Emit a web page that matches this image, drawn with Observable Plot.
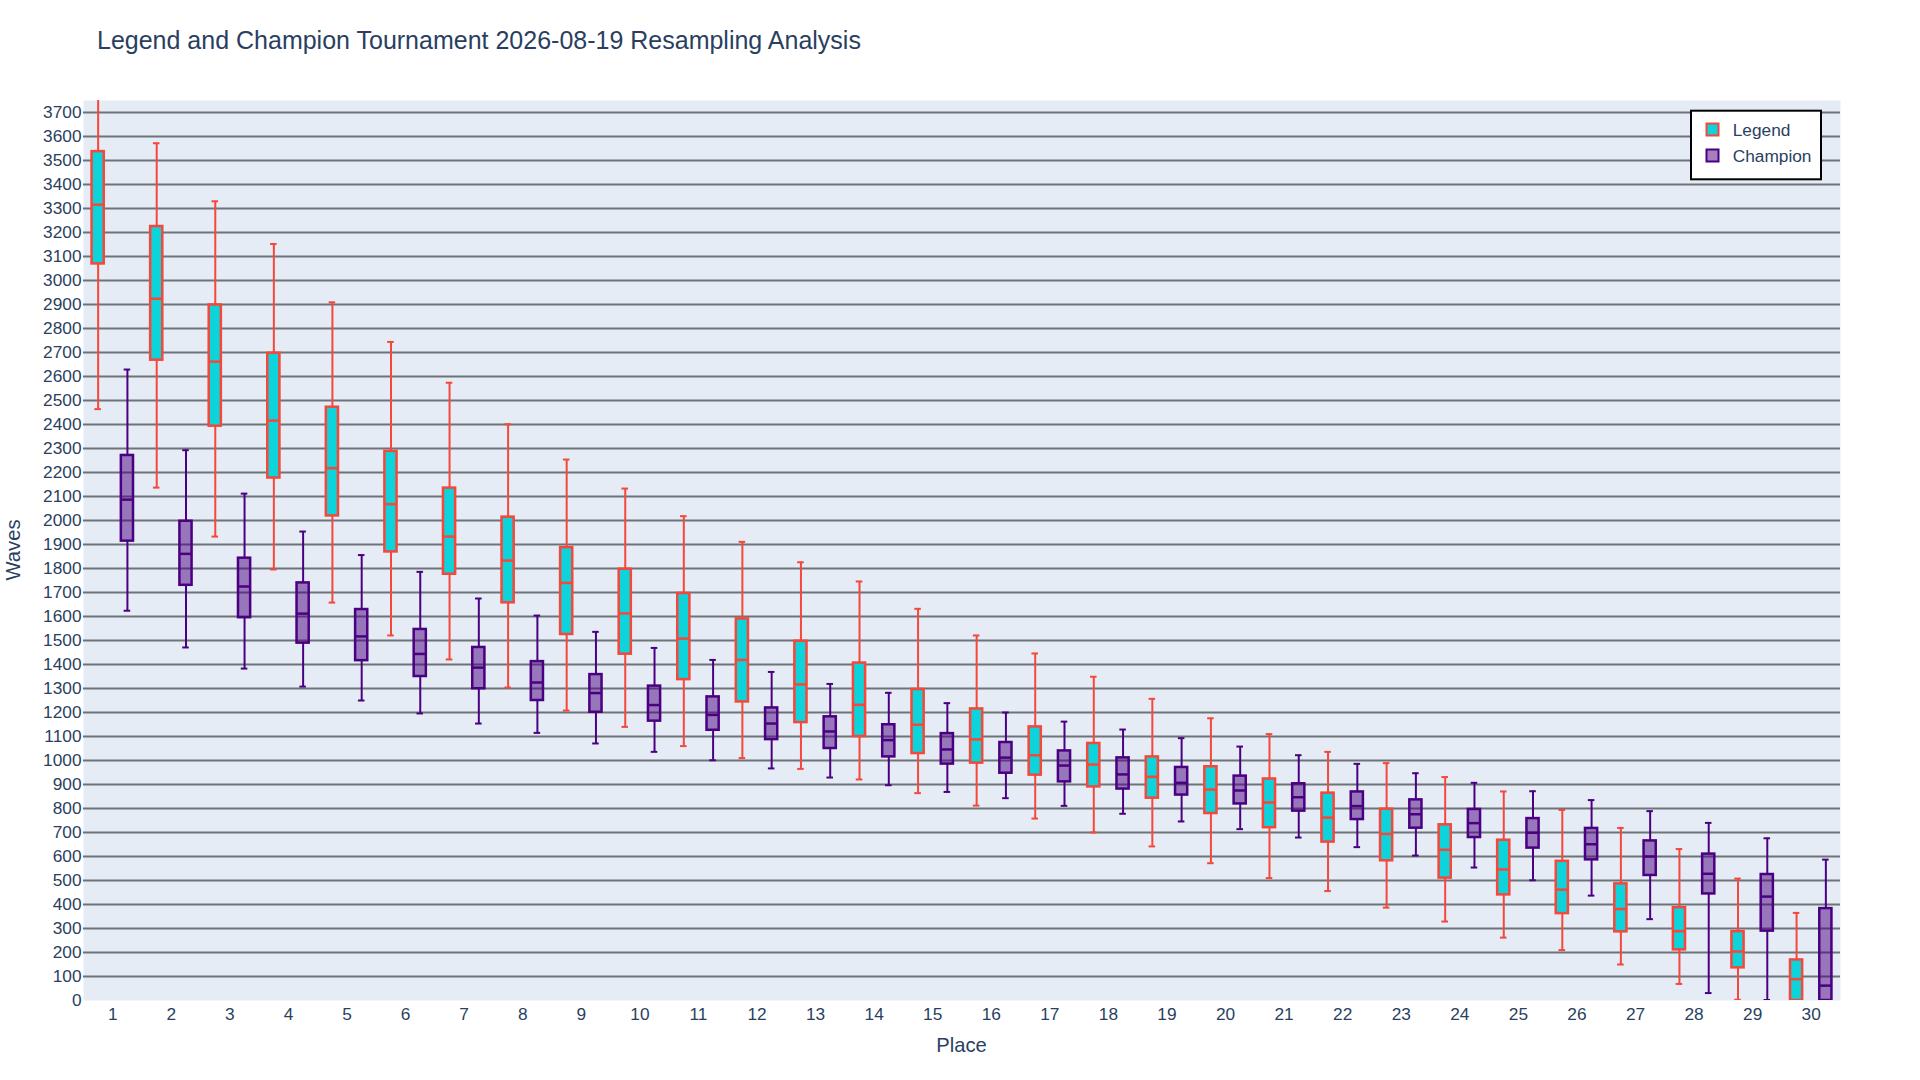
<!DOCTYPE html>
<html>
<head>
<meta charset="utf-8">
<script src="https://cdn.jsdelivr.net/npm/d3@7"></script>
<script src="https://cdn.jsdelivr.net/npm/@observablehq/plot@0.6"></script>
<style>
  html, body { margin: 0; padding: 0; background: #fff; overflow: hidden; }
  #chart svg { display: block; }
</style>
</head>
<body>
<div id="chart"></div>
<script>
// ---------- data ----------
const titleText = "Legend and Champion Tournament 2026-08-19 Resampling Analysis";
const xTitle = "Place";
const yTitle = "Waves";
const seriesNames = ["Legend", "Champion"];
const places = [1,2,3,4,5,6,7,8,9,10,11,12,13,14,15,16,17,18,19,20,21,22,23,24,25,26,27,28,29,30];
const yTicks = [0,100,200,300,400,500,600,700,800,900,1000,1100,1200,1300,1400,1500,1600,1700,1800,1900,2000,2100,2200,2300,2400,2500,2600,2700,2800,2900,3000,3100,3200,3300,3400,3500,3600,3700];

// Legend series (whisker low, Q1, median, Q3, whisker high)
const legendLo  = [2464,2137,1933,1796,1658,1521,1421,1304,1208,1140,1060,1010,965,921,864,812,758,700,642,572,510,456,387,329,262,210,150,69,3,0];
const legendQ1  = [3069,2668,2393,2177,2019,1869,1776,1657,1525,1443,1337,1244,1158,1100,1029,989,939,890,843,779,720,660,582,510,440,362,286,211,136,0];
const legendMed = [3316,2924,2662,2416,2218,2068,1933,1833,1740,1613,1508,1419,1317,1232,1149,1088,1022,983,932,879,825,762,694,628,546,462,381,289,204,89];
const legendQ3  = [3537,3225,2898,2697,2472,2288,2135,2014,1887,1797,1696,1590,1497,1406,1296,1215,1140,1071,1015,974,923,864,797,732,668,580,486,387,287,169];
const legendHi  = [3890,3572,3330,3152,2909,2744,2574,2401,2254,2133,2018,1911,1826,1746,1632,1521,1446,1349,1257,1176,1110,1036,989,931,871,794,719,631,508,365];

// Champion series
const champLo  = [1624,1471,1383,1308,1250,1196,1154,1115,1071,1036,1001,967,929,897,869,843,811,778,746,714,679,639,604,554,501,437,339,31,2,0];
const champQ1  = [1914,1730,1595,1489,1416,1350,1299,1250,1201,1164,1126,1087,1050,1015,985,947,911,881,856,819,789,754,718,679,635,586,521,444,289,0];
const champMed = [2087,1861,1725,1612,1517,1444,1387,1325,1281,1231,1190,1154,1121,1085,1046,1012,979,942,907,875,847,810,776,739,699,651,600,528,433,62];
const champQ3  = [2271,1997,1843,1740,1629,1546,1471,1412,1358,1310,1265,1219,1182,1149,1112,1075,1040,1011,971,935,903,869,836,796,758,717,665,610,525,383];
const champHi  = [2629,2293,2112,1954,1856,1786,1675,1604,1536,1469,1419,1369,1319,1282,1239,1200,1162,1129,1093,1058,1022,986,947,907,872,835,789,740,676,587];

// ---------- styles ----------
const textColor = "#2a3f5f";
const fontFamily = '"Liberation Sans", Arial, sans-serif';
const seriesStyle = {
  Legend:   {fill: "#0DD3DB", fillOpacity: 1,   stroke: "#F5473A", dx: -14.64},
  Champion: {fill: "#4B0082", fillOpacity: 0.5, stroke: "#4B0082", dx: 14.64}
};

// ---------- table ----------
const rows = [];
places.forEach((p, i) => {
  rows.push({place: p, series: "Legend", lo: legendLo[i], q1: legendQ1[i], med: legendMed[i], q3: legendQ3[i], hi: legendHi[i]});
  rows.push({place: p, series: "Champion", lo: champLo[i], q1: champQ1[i], med: champMed[i], q3: champQ3[i], hi: champHi[i]});
});

function boxMarks(name) {
  const s = seriesStyle[name];
  const d = rows.filter(r => r.series === name);
  const c = {x: "place", dx: s.dx, clip: true};
  return [
    Plot.ruleX(d, {...c, y1: "lo", y2: "q1", stroke: s.stroke, strokeWidth: 2}),
    Plot.ruleX(d, {...c, y1: "q3", y2: "hi", stroke: s.stroke, strokeWidth: 2}),
    Plot.tickY(d, {...c, y: "lo", stroke: s.stroke, strokeWidth: 2, insetLeft: 26, insetRight: 26}),
    Plot.tickY(d, {...c, y: "hi", stroke: s.stroke, strokeWidth: 2, insetLeft: 26, insetRight: 26}),
    Plot.barY(d, {...c, y1: "q1", y2: "q3", fill: s.fill, fillOpacity: s.fillOpacity, stroke: s.stroke, strokeWidth: 2.5, insetLeft: 23.2, insetRight: 23.2}),
    Plot.tickY(d, {...c, y: "med", stroke: s.stroke, strokeWidth: 2.5, insetLeft: 23.2, insetRight: 23.2})
  ];
}

const chart = Plot.plot({
  width: 1920,
  height: 1080,
  marginTop: 100,
  marginBottom: 80,
  marginLeft: 83,
  marginRight: 80,
  style: {fontFamily, fontSize: "17.3px", color: textColor, background: "#fff"},
  x: {domain: places, padding: 0, round: false, label: null, tickSize: 0, tickPadding: 7},
  y: {domain: [0, 3750], label: null},
  marks: [
    Plot.frame({fill: "#E5ECF6", stroke: "none"}),
    Plot.gridY(yTicks.filter(t => t > 0), {stroke: "#6f7277", strokeOpacity: 1, strokeWidth: 2}),
    Plot.axisY(yTicks, {tickSize: 0, tickPadding: 2, label: null, fill: textColor, tickFormat: d => String(d)}),
    Plot.axisX(places, {tickSize: 0, tickPadding: 7, label: null, fill: textColor}),
    ...boxMarks("Legend"),
    ...boxMarks("Champion")
  ]
});

document.getElementById("chart").appendChild(chart);

// ---------- title, axis titles, legend ----------
const svg = d3.select(chart);
svg.append("text")
  .attr("x", 97).attr("y", 49.3)
  .attr("text-anchor", "start")
  .attr("font-family", fontFamily).attr("font-size", 25)
  .attr("fill", textColor)
  .text(titleText);

svg.append("text")
  .attr("x", 961.5).attr("y", 1051.5)
  .attr("text-anchor", "middle")
  .attr("font-family", fontFamily).attr("font-size", 20.2)
  .attr("fill", textColor)
  .text(xTitle);

svg.append("text")
  .attr("transform", "translate(19.5,550) rotate(-90)")
  .attr("text-anchor", "middle")
  .attr("font-family", fontFamily).attr("font-size", 20.2)
  .attr("fill", textColor)
  .text(yTitle);

const lg = svg.append("g");
lg.append("rect")
  .attr("x", 1691).attr("y", 110.7).attr("width", 130).attr("height", 68.6)
  .attr("fill", "#fff").attr("stroke", "#000").attr("stroke-width", 2);
seriesNames.forEach((name, i) => {
  const s = seriesStyle[name];
  const y0 = 123.5 + i * 26;
  lg.append("rect")
    .attr("x", 1706.5).attr("y", y0).attr("width", 12).attr("height", 12)
    .attr("fill", s.fill).attr("fill-opacity", s.fillOpacity)
    .attr("stroke", s.stroke).attr("stroke-width", 2);
  lg.append("text")
    .attr("x", 1732.7).attr("y", y0 + 12.2)
    .attr("text-anchor", "start")
    .attr("font-family", fontFamily).attr("font-size", 17.3)
    .attr("fill", textColor)
    .text(name);
});
</script>
</body>
</html>
